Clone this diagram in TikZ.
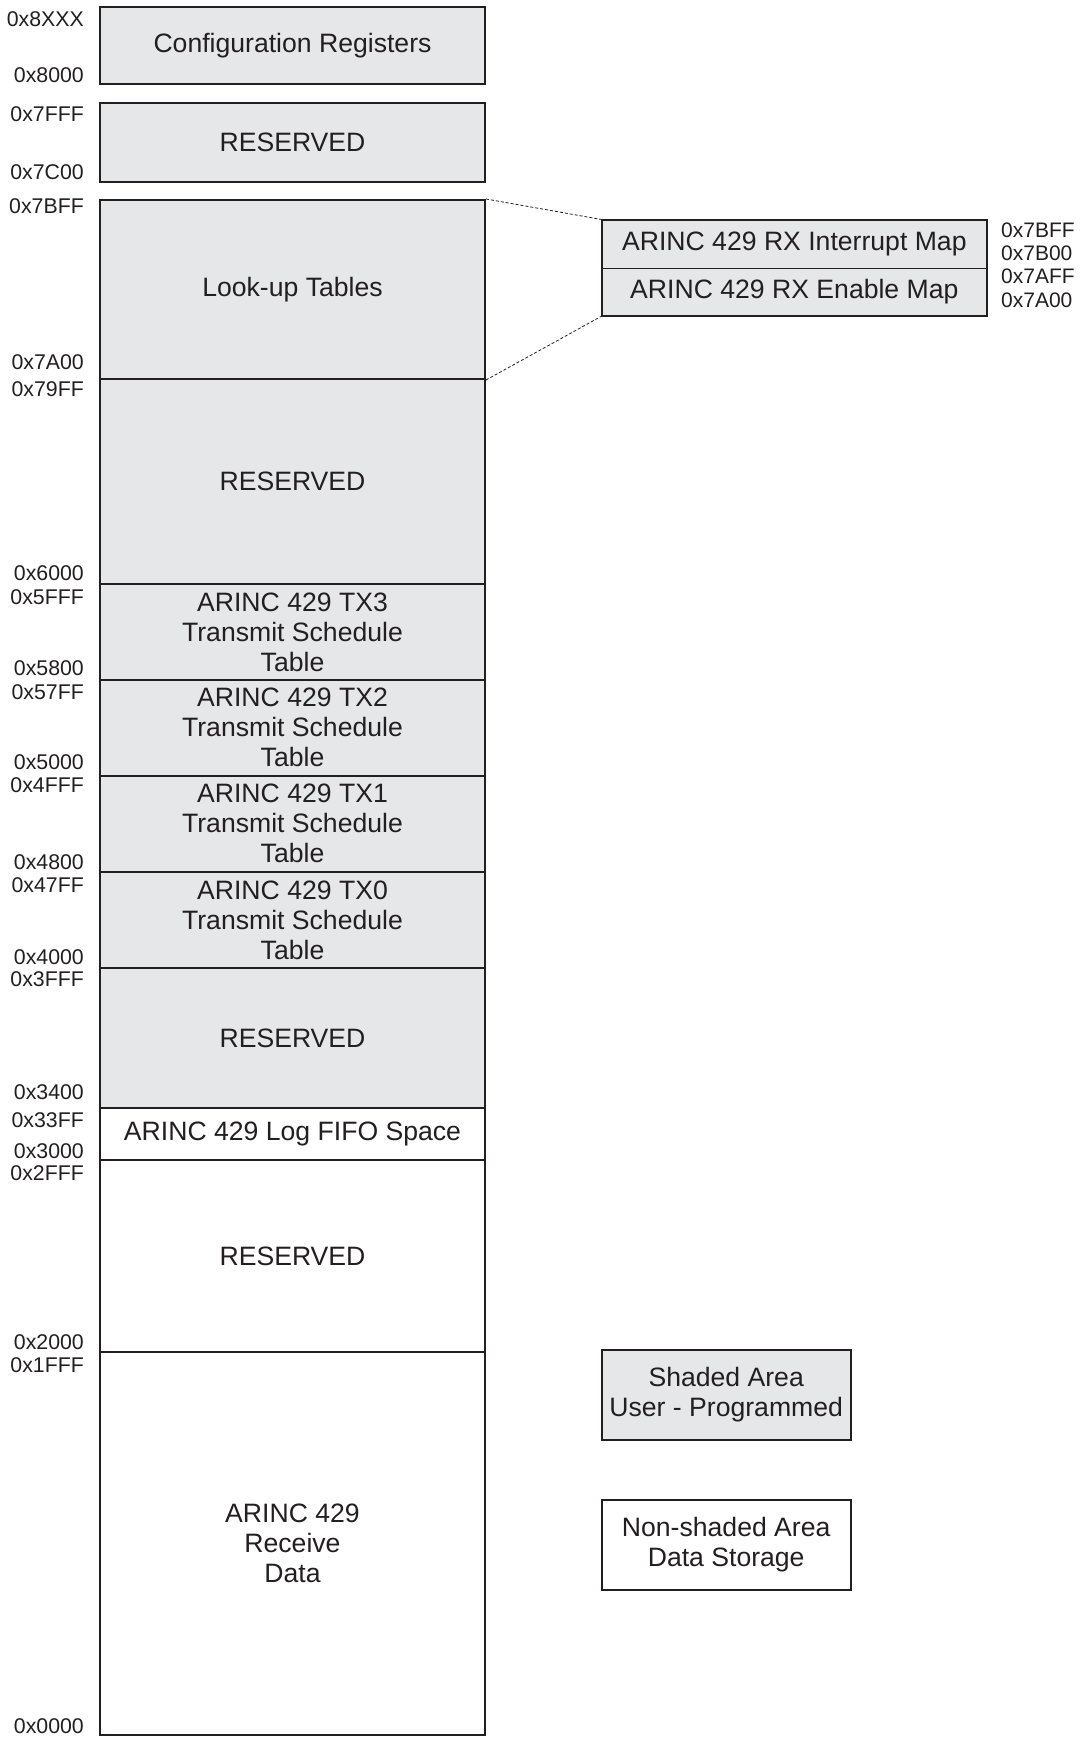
\documentclass[tikz,border=0pt]{standalone}
\usepackage{fontspec}
\setmainfont{Liberation Sans}
\definecolor{ink}{HTML}{231F20}
\definecolor{shade}{HTML}{E6E7E8}
\begin{document}
\begin{tikzpicture}[x=1pt,y=-1pt,
  blk/.style={draw=ink,line width=2pt,minimum width=385pt,inner sep=0pt,align=center,
    text=ink,font=\fontsize{26.6}{30}\selectfont},
  shaded/.style={blk,fill=shade},
  plain/.style={blk,fill=white},
  mapbox/.style={draw=ink,line width=1pt,fill=shade,minimum width=384.7pt,inner sep=0pt,
    text=ink,font=\fontsize{26.6}{30}\selectfont},
  legbox/.style={draw=ink,line width=2pt,minimum width=249pt,minimum height=90pt,inner sep=0pt,
    align=center,text=ink,font=\fontsize{26.6}{30}\selectfont},
  addr/.style={anchor=east,inner sep=0pt,text=ink,font=\fontsize{21.3}{22}\selectfont},
  raddr/.style={anchor=west,inner sep=0pt,text=ink,font=\fontsize{21}{22}\selectfont},
  dots/.style={draw=ink,line width=0.8pt,dash pattern=on 3pt off 2pt}]
\useasboundingbox[fill=white] (0,0) rectangle (1079,1737);

% main column blocks
\node[shaded,minimum height=77pt]  (cfg)  at (292.5,45.5)   {Configuration Registers};
\node[shaded,minimum height=79pt]  (res1) at (292.5,142.5)  {RESERVED};
\node[shaded,minimum height=179pt] (lut)  at (292.5,289.5)  {Look-up Tables};
\node[shaded,minimum height=205pt] (res2) at (292.5,481.5)  {RESERVED};
\node[shaded,minimum height=96pt]  (tx3)  at (292.5,632)    {ARINC 429 TX3\\Transmit Schedule\\Table};
\node[shaded,minimum height=95.5pt](tx2)  at (292.5,727.75) {ARINC 429 TX2\\Transmit Schedule\\Table};
\node[shaded,minimum height=96.5pt](tx1)  at (292.5,823.75) {ARINC 429 TX1\\Transmit Schedule\\Table};
\node[shaded,minimum height=96pt]  (tx0)  at (292.5,920)    {ARINC 429 TX0\\Transmit Schedule\\Table};
\node[shaded,minimum height=140pt] (res3) at (292.5,1038)   {RESERVED};
\node[plain,minimum height=52pt]   (log)  at (292.5,1134)   {ARINC 429 Log FIFO Space};
\node[plain,minimum height=192pt]  (res4) at (292.5,1256)   {RESERVED};
\node[plain,minimum height=383pt]  (rcv)  at (292.5,1543.5) {ARINC 429\\Receive\\Data};

% left addresses
\node[addr] (l8xxx) at (84,19)    {0x8XXX};
\node[addr] (l8000) at (84,75)    {0x8000};
\node[addr] (l7fff) at (84,114)   {0x7FFF};
\node[addr] (l7c00) at (84,172)   {0x7C00};
\node[addr] (l7bff) at (84,206)   {0x7BFF};
\node[addr] (l7a00) at (84,362)   {0x7A00};
\node[addr] (l79ff) at (84,389)   {0x79FF};
\node[addr] (l6000) at (84,573)   {0x6000};
\node[addr] (l5fff) at (84,597)   {0x5FFF};
\node[addr] (l5800) at (84,668)   {0x5800};
\node[addr] (l57ff) at (84,692)   {0x57FF};
\node[addr] (l5000) at (84,762)   {0x5000};
\node[addr] (l4fff) at (84,785)   {0x4FFF};
\node[addr] (l4800) at (84,862)   {0x4800};
\node[addr] (l47ff) at (84,885)   {0x47FF};
\node[addr] (l4000) at (84,957)   {0x4000};
\node[addr] (l3fff) at (84,979)   {0x3FFF};
\node[addr] (l3400) at (84,1092)  {0x3400};
\node[addr] (l33ff) at (84,1120)  {0x33FF};
\node[addr] (l3000) at (84,1151)  {0x3000};
\node[addr] (l2fff) at (84,1173)  {0x2FFF};
\node[addr] (l2000) at (84,1342)  {0x2000};
\node[addr] (l1fff) at (84,1365)  {0x1FFF};
\node[addr] (l0000) at (84,1726)  {0x0000};

% expanded lookup map
\node[mapbox,minimum height=48pt]   (irq) at (794.35,244)    {ARINC 429 RX Interrupt Map};
\node[mapbox,minimum height=47.7pt] (ena) at (794.35,291.85) {ARINC 429 RX Enable Map};
\draw[ink,line width=2pt] (irq.north west) rectangle (ena.south east);
\draw[dots] (lut.north east) -- (irq.north west);
\draw[dots] (lut.south east) -- (ena.south west);

\node[raddr] (r7bff) at (1001,230)   {0x7BFF};
\node[raddr] (r7b00) at (1001,253)   {0x7B00};
\node[raddr] (r7aff) at (1001,276.5) {0x7AFF};
\node[raddr] (r7a00) at (1001,300)   {0x7A00};

% legend
\node[legbox,fill=shade] (legs) at (726.2,1395) {Shaded Area\\User - Programmed};
\node[legbox,fill=white] (legn) at (726.2,1545) {Non-shaded Area\\Data Storage};
\end{tikzpicture}
\end{document}
